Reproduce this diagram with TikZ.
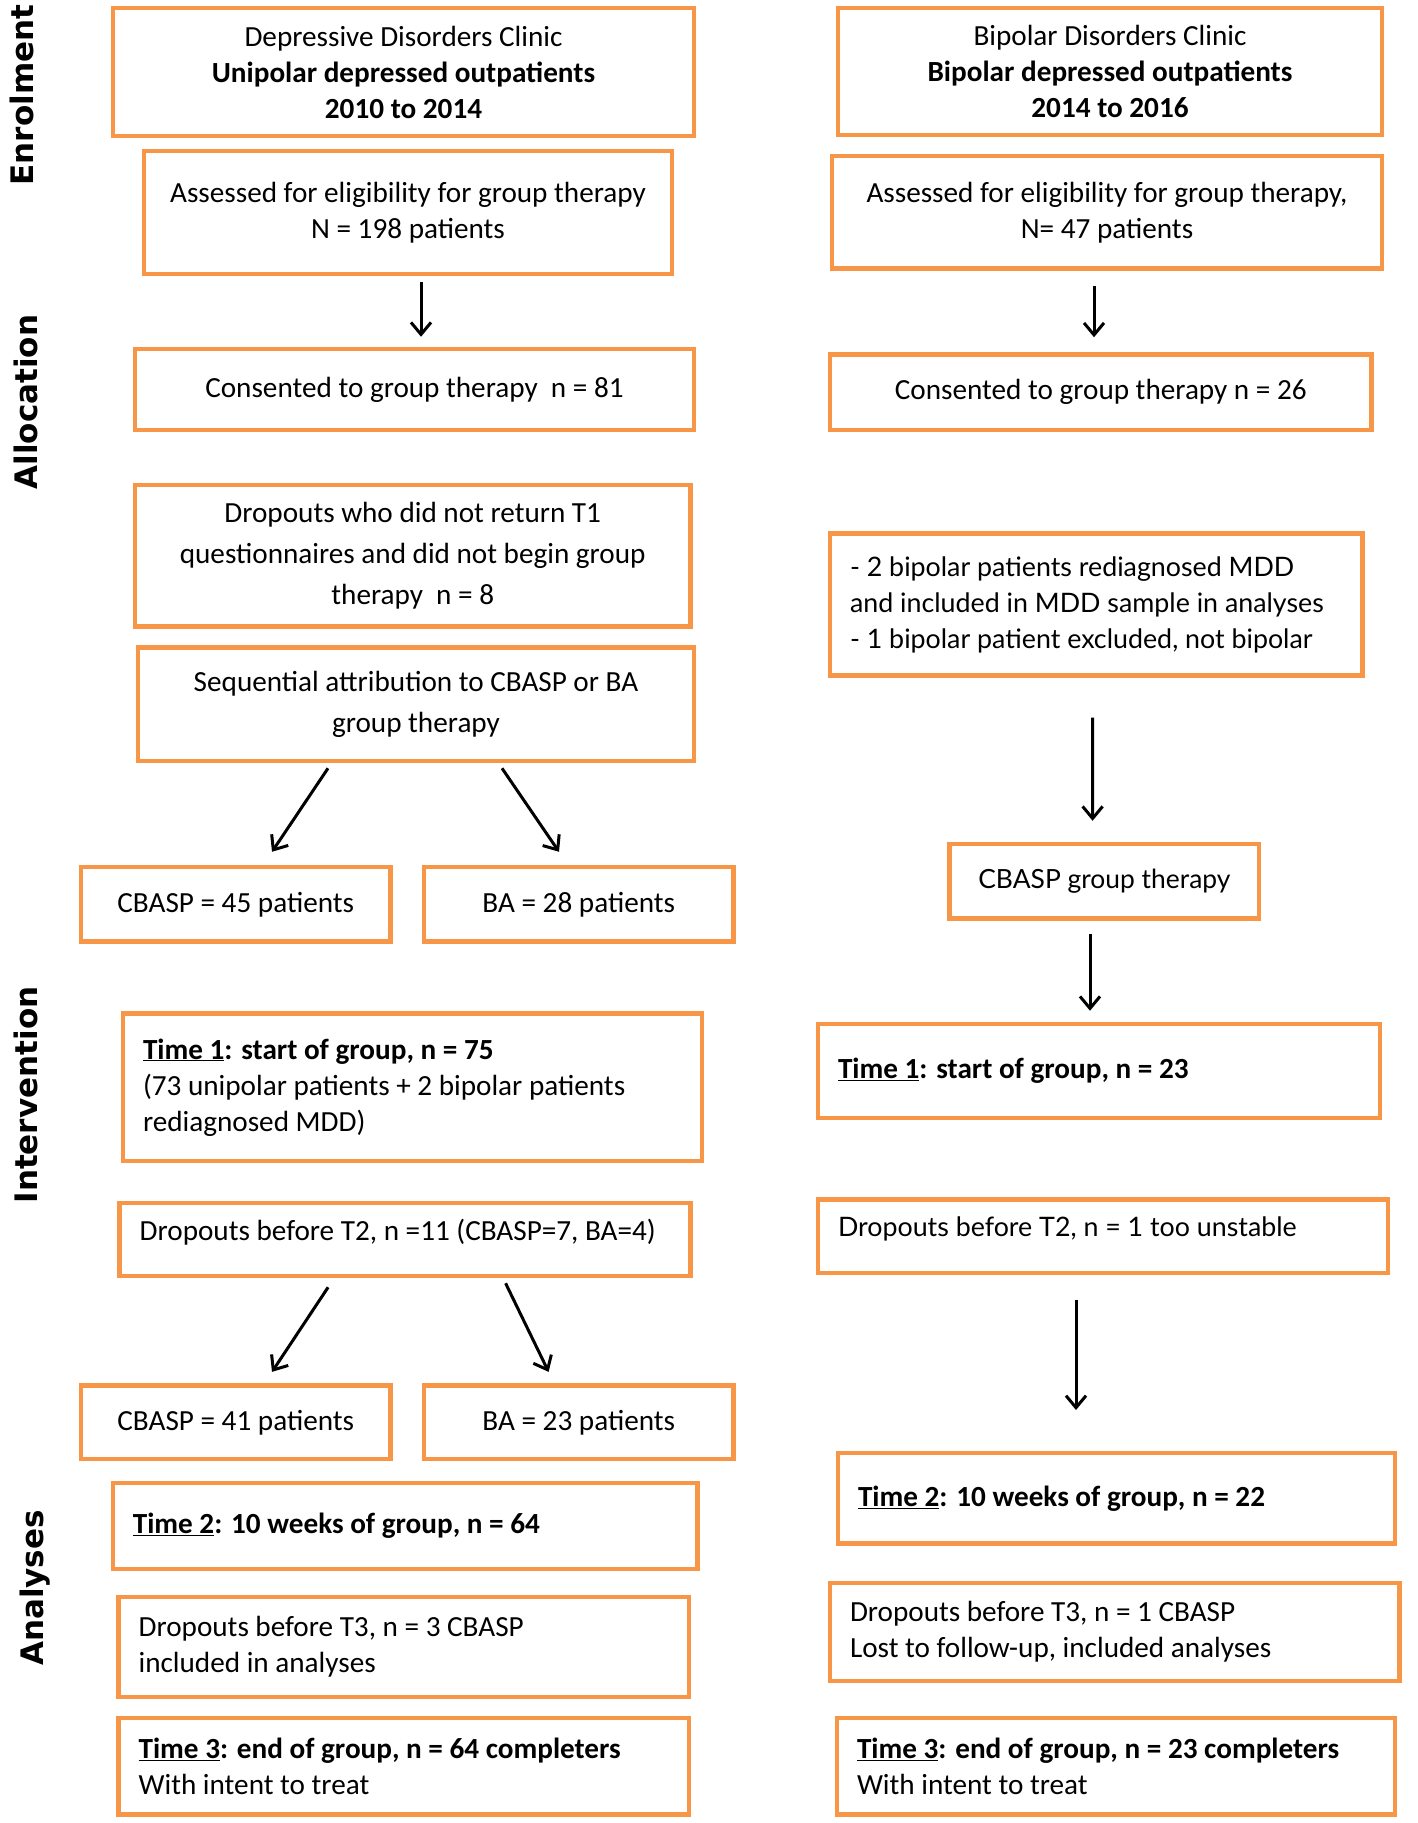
\documentclass[tikz,border=0pt]{standalone}
\usepackage{fontspec}
\setmainfont{Carlito}
\newfontfamily\latofont{Lato}
\newfontfamily\sidefont{DejaVu Sans}
\usetikzlibrary{arrows.meta,calc}
\definecolor{boxorange}{HTML}{F79646}
\newcommand{\normsp}{\spaceskip=0pt\xspaceskip=0pt\relax}
\begin{document}
\begin{tikzpicture}[x=1pt,y=-1pt,
  box/.style={draw=boxorange, line width=4.5pt, inner sep=0pt, fill=white,
    font=\fontsize{29.2}{36}\selectfont},
  cbox/.style={box, align=center},
  lbox/.style={box, align=left, inner xsep=20pt},
  wide/.style={font=\fontsize{29.2}{41}\selectfont},
  latob/.style={font=\latofont\fontsize{26.4}{36}\selectfont},
  latoc/.style={font=\latofont\fontsize{26.8}{36}\selectfont},
  arr/.style={line width=3pt, -{Straight Barb[length=12pt,width=20pt]}},
  side/.style={rotate=90, font=\sidefont\bfseries\fontsize{31}{36}\selectfont}]
\fill[white] (0,0) rectangle (1417,1823);
\useasboundingbox (0,0) rectangle (1417,1823);

% side labels
\node[side] (S1) at (21.5,95) {Enrolment};
\node[side] (S2) at (26,402) {Allocation};
\node[side] (S3) at (26,1095) {Intervention};
\node[side] (S4) at (35,1588) {Analyses};

% left column
\node[cbox, minimum width=581pt, minimum height=128pt] (A1) at (403.5,72)
  {Depressive Disorders Clinic\\\textbf{Unipolar depressed outpatients}\\\textbf{2010 to 2014}};
\node[cbox, minimum width=528pt, minimum height=123pt] (A2) at (408,212.5)
  {Assessed for eligibility for group therapy\\N = 198 patients};
\node[cbox, minimum width=559pt, minimum height=81pt] (A3) at (414.5,389.5)
  {Consented to group therapy\ \ n = 81};
\node[cbox, wide, minimum width=555.5pt, minimum height=141.5pt] (A4) at (412.75,555.75)
  {Dropouts who did not return T1\\questionnaires and did not begin group\\therapy\ \ n = 8};
\node[cbox, wide, minimum width=556pt, minimum height=113.5pt] (A5) at (416,704.25)
  {Sequential attribution to CBASP or BA\\group therapy};
\node[cbox, minimum width=309.5pt, minimum height=74.5pt] (A6) at (235.75,904.25)
  {CBASP = 45 patients};
\node[cbox, minimum width=309.5pt, minimum height=74.5pt] (A7) at (578.75,904.25)
  {BA = 28 patients};
\node[lbox, text width=539pt, minimum height=147.4pt] (A8) at (412.5,1087.3)
  {\normsp\textbf{\underline{Time 1}: start of group, n = 75}\\(73 unipolar patients + 2 bipolar patients\\rediagnosed MDD)};
\node[lbox, text width=530.8pt, minimum height=73pt, text depth=20pt] (A9) at (405.1,1239.5)
  {\normsp Dropouts before T2, n =11 (CBASP=7, BA=4)};
\node[cbox, minimum width=309.5pt, minimum height=73.4pt] (A10) at (235.75,1422.3)
  {CBASP = 41 patients};
\node[cbox, minimum width=309.5pt, minimum height=73.4pt] (A11) at (578.75,1422.3)
  {BA = 23 patients};
\node[lbox, text width=544.6pt, minimum height=86pt] (A12) at (405.1,1526)
  {\normsp\textbf{\underline{Time 2}: 10 weeks of group, n = 64}};
\node[lbox, text width=530.4pt, minimum height=100pt] (A13) at (403.8,1647)
  {\normsp Dropouts before T3, n = 3 CBASP\\included in analyses};
\node[lbox, text width=530.4pt, minimum height=96.5pt] (A14) at (403.8,1766.25)
  {\normsp\textbf{\underline{Time 3}: end of group, n = 64 completers}\\With intent to treat};

% right column
\node[cbox, minimum width=544pt, minimum height=127pt] (B1) at (1110,71.5)
  {Bipolar Disorders Clinic\\\textbf{Bipolar depressed outpatients}\\\textbf{2014 to 2016}};
\node[cbox, minimum width=550pt, minimum height=112.5pt] (B2) at (1107,212.25)
  {Assessed for eligibility for group therapy,\\N= 47 patients};
\node[cbox, minimum width=541.6pt, minimum height=75.5pt] (B3) at (1100.8,392.25)
  {Consented to group therapy n = 26};
\node[lbox, latoc, text width=492.3pt, minimum height=141.9pt] (B4) at (1096.15,604.45)
  {\normsp - 2 bipolar patients rediagnosed MDD\\and included in MDD sample in analyses\\- 1 bipolar patient excluded, not bipolar};
\node[cbox, latob, minimum width=309.3pt, minimum height=74.3pt] (B5) at (1104.35,881.15)
  {CBASP group therapy};
\node[lbox, text width=522pt, minimum height=94pt] (B6) at (1099,1071)
  {\normsp\textbf{\underline{Time 1}: start of group, n = 23}};
\node[lbox, latoc, text width=530pt, minimum height=73.2pt, text depth=20pt] (B7) at (1103,1236.2)
  {\normsp Dropouts before T2, n = 1 too unstable};
\node[lbox, text width=517pt, minimum height=90.7pt] (B8) at (1116.5,1498.35)
  {\normsp\textbf{\underline{Time 2}: 10 weeks of group, n = 22}};
\node[lbox, text width=529.5pt, minimum height=98pt] (B9) at (1114.75,1632)
  {\normsp Dropouts before T3, n = 1 CBASP\\Lost to follow-up, included analyses};
\node[lbox, text width=518pt, minimum height=96.5pt] (B10) at (1116,1766.25)
  {\normsp\textbf{\underline{Time 3}: end of group, n = 23 completers}\\With intent to treat};

% connectors
\draw[arr] ($(A2.south)+(13,6)$) -- ($(A3.north)+(6.5,-10)$);
\draw[arr] ($(B2.south)+(-13,15)$) -- ($(B3.north)+(-6.8,-15)$);
\draw[arr] ($(A5.south)+(-88,5)$) -- ($(A6.north)+(36.25,-13)$);
\draw[arr] ($(A5.south)+(86,5)$) -- ($(A7.north)+(-19.75,-13)$);
\draw[arr] ($(B4.south)+(-3.5,40)$) -- ($(B5.north)+(-11.75,-21)$);
\draw[arr] ($(B5.south)+(-14.35,13)$) -- ($(B6.north)+(-9,-11)$);
\draw[arr] ($(A9.south)+(-77,9)$) -- ($(A10.north)+(36.25,-11.5)$);
\draw[arr] ($(A9.south)+(100.5,5)$) -- ($(A11.north)+(-30.15,-11.5)$);
\draw[arr] ($(B7.south)+(-27,24.5)$) -- ($(B8.north)+(-40.5,-40.75)$);
\end{tikzpicture}
\end{document}
